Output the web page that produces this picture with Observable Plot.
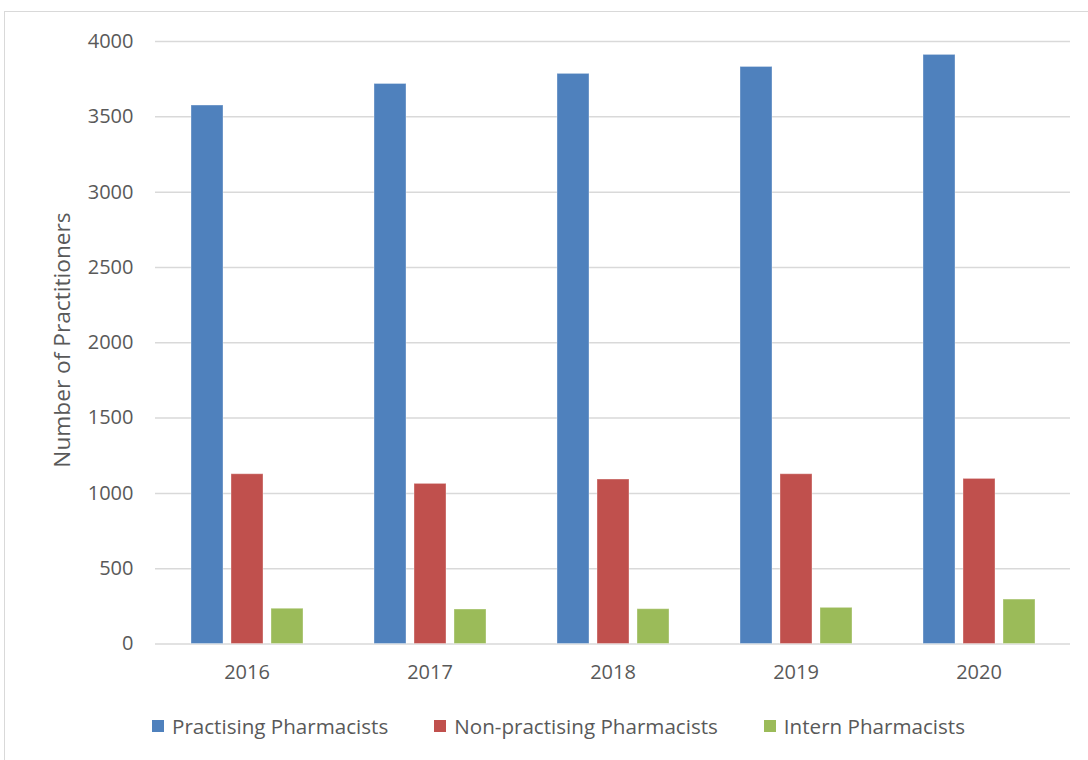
<!DOCTYPE html>
<html>
<head>
<meta charset="utf-8">
<script src="https://cdn.jsdelivr.net/npm/d3@7"></script>
<script src="https://cdn.jsdelivr.net/npm/@observablehq/plot@0.6"></script>
<style>
  html, body { margin: 0; padding: 0; background: #fff; }
  #frame { position: relative; width: 1088px; height: 760px; overflow: hidden; font-family: "Open Sans", sans-serif; color: #595959; }
  #border { position: absolute; left: 4px; top: 11px; width: 1090px; height: 760px; border: 1.5px solid #d9d9d9; box-sizing: border-box; }
  #chart { position: absolute; left: 0; top: 0; }
  #ylabel { position: absolute; left: 61px; top: 340px; transform: translate(-50%, -50%) rotate(-90deg); font-size: 22.7px; white-space: nowrap; }
  #legend { position: absolute; top: 712px; left: 152px; display: flex; align-items: center; font-size: 20.6px; }
  .item { display: flex; align-items: center; }
  .sw { width: 12px; height: 12px; margin-right: 8px; }
</style>
</head>
<body>
<div id="frame">
  <div id="border"></div>
  <div id="chart"></div>
  <div id="ylabel">Number of Practitioners</div>
  <div id="legend"></div>
</div>
<script>
const years = ["2016", "2017", "2018", "2019", "2020"];
const seriesNames = ["Practising Pharmacists", "Non-practising Pharmacists", "Intern Pharmacists"];
const colors = ["#4F81BD", "#C0504D", "#9BBB59"];
const practising = [3575, 3718, 3785, 3831, 3911];
const nonPractising = [1127, 1063, 1092, 1127, 1096];
const intern = [234, 229, 231, 240, 295];
const yTicks = [0, 500, 1000, 1500, 2000, 2500, 3000, 3500, 4000];

const seriesValues = [practising, nonPractising, intern];
const data = [];
years.forEach((yr, i) => {
  seriesNames.forEach((s, j) => data.push({year: yr, series: s, value: seriesValues[j][i]}));
});

const chart = Plot.plot({
  width: 1088,
  height: 690,
  marginLeft: 154,
  marginRight: 18,
  marginTop: 41,
  marginBottom: 46.5,
  style: {fontFamily: "'Open Sans', sans-serif", color: "#595959", background: "transparent"},
  fx: {domain: years, padding: 0, label: null},
  x: {domain: seriesNames, paddingInner: 0.21, paddingOuter: 0.86, axis: null},
  y: {domain: [0, 4000], label: null},
  color: {domain: seriesNames, range: colors},
  marks: [
    Plot.gridY(yTicks, {stroke: "#d9d9d9", strokeOpacity: 1, strokeWidth: 1.5}),
    Plot.axisY(yTicks, {tickSize: 0, tickPadding: 22, fontSize: 20, label: null, fill: "#595959", tickFormat: d => String(d)}),
    Plot.axisFx({anchor: "bottom", tickSize: 0, tickPadding: 21, fontSize: 20, label: null, fill: "#595959"}),
    Plot.barY(data, {fx: "year", x: "series", y: "value", fill: "series", stroke: "#ffffff", strokeOpacity: 0.35, strokeWidth: 1})
  ]
});
document.getElementById("chart").appendChild(chart);

const legend = document.getElementById("legend");
const gaps = [0, 46, 46];
seriesNames.forEach((s, i) => {
  const it = document.createElement("div");
  it.className = "item";
  it.style.marginLeft = gaps[i] + "px";
  const sw = document.createElement("div");
  sw.className = "sw";
  sw.style.background = colors[i];
  const t = document.createElement("span");
  t.textContent = s;
  it.appendChild(sw);
  it.appendChild(t);
  legend.appendChild(it);
});
</script>
</body>
</html>
